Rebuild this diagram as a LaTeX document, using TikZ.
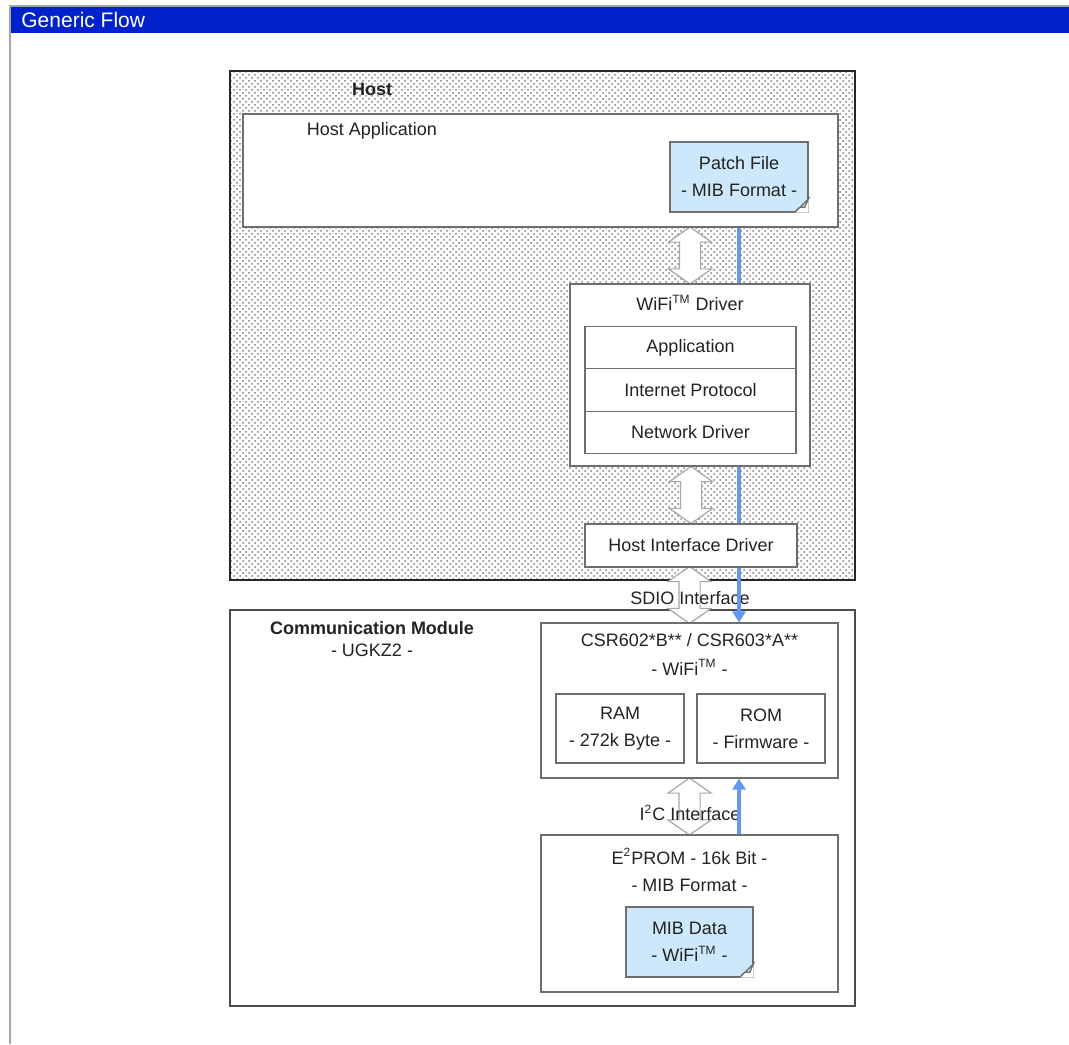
\documentclass[tikz,border=0pt]{standalone}
\usepackage{fontspec}
\setmainfont{Liberation Sans}
\usetikzlibrary{arrows.meta}
\usetikzlibrary{calc}
\usetikzlibrary{patterns}
\usetikzlibrary{shapes, shapes.arrows}

\pgfdeclarelayer{bg}
\pgfdeclarelayer{lines}
\pgfsetlayers{bg,lines,main}

\definecolor{barblue}{RGB}{0,34,204}
\definecolor{noteblue}{RGB}{204,232,250}
\definecolor{flowblue}{RGB}{100,150,245}
\definecolor{boxgray}{RGB}{110,110,110}
\definecolor{txtgray}{RGB}{35,35,35}

\tikzset{
  box/.style={draw=boxgray, line width=0.6pt, fill=white, inner sep=0pt},
  notebox/.style={box, fill=noteblue, align=center},
  txt/.style={text=txtgray, font=\fontsize{9}{13.5}\selectfont, inner sep=0pt, align=center},
  boldtxt/.style={txt, font=\bfseries\fontsize{9}{11}\selectfont},
  hollow/.style={shape=double arrow, draw=gray!70, fill=white, line width=0.6pt,
    rotate=90, inner xsep=0pt, inner ysep=5pt, minimum width=21pt, minimum height=28.5pt,
    double arrow head extend=5.5pt, double arrow tip angle=110},
  flow/.style={draw=flowblue, line width=2pt, -{Triangle[width=6.5pt,length=5.5pt]}},
}

% folded corner of a note
\newcommand{\dogear}[1]{%
  \fill[white] ($(#1.south east)+(0,-14)$) -- (#1.south east) -- ($(#1.south east)+(-14,0)$) -- cycle;
  \filldraw[draw=boxgray, fill=gray!40, line width=0.6pt]
    ($(#1.south east)+(0,-14)$) -- ($(#1.south east)+(-14,0)$)
    .. controls ($(#1.south east)+(-9,-6)$) .. ($(#1.south east)+(-4,-5)$) -- cycle;}

\begin{document}
\begin{tikzpicture}[x=0.5pt, y=-0.5pt]
        \useasboundingbox (0,0) rectangle (1069,1044);

        % Title bar
        \fill[barblue] (10,7) rectangle (1069,33);
        \draw[gray!70, line width=1pt] (1069,6) -- (10,6) -- (10,1044);
        \node[anchor=west, text=white, font=\fontsize{10.5}{12}\selectfont, inner sep=0pt] (title) at (21,20) {Generic Flow};

        % Host side
        \node[boldtxt] (hostlbl) at (372,89) {Host};
        \node[box, minimum width=297.5pt, minimum height=56.5pt] (hostapp) at (540.5,170.5) {};
        \node[txt] (hostapptxt) at (372,131) {Host Application};
        \node[notebox, txt, minimum width=69pt, minimum height=35pt] (patch) at (739,177) {Patch File\\- MIB Format -};

        \node[box, minimum width=120pt, minimum height=91pt] (driver) at (690,375) {};
        \node[txt] (drivertxt) at (690,303) {WiFi\textsuperscript{TM} Driver};
        \foreach \name/\y/\txt in {app/347.5/Application, ip/390/Internet Protocol, netdrv/432.5/Network Driver}
            \node[box, txt, minimum width=105.5pt, minimum height=21.25pt] (\name) at (690.5,\y) {\txt};

        \node[box, txt, minimum width=106pt, minimum height=21.5pt] (hid) at (691,545.5) {Host Interface Driver};

        % Module side
        \node[boldtxt] (commlbl) at (372,628) {Communication Module};
        \node[txt] (commsub) at (372,650) {- UGKZ2 -};
        \node[box, minimum width=148.5pt, minimum height=77.5pt] (csr) at (689.5,700.5) {};
        \node[txt] (csrtxt) at (689.5,654.5) {CSR602*B** / CSR603*A**\\[1pt]- WiFi\textsuperscript{TM} -};
        \node[box, txt, minimum width=64pt, minimum height=34.5pt] (ram) at (620,728.5) {RAM\\- 272k Byte -};
        \node[box, txt, minimum width=64pt, minimum height=34.5pt] (rom) at (761,728.5) {ROM\\- Firmware -};

        \node[box, minimum width=148.5pt, minimum height=78.5pt] (eprom) at (689.5,913.5) {};
        \node[txt] (epromtxt) at (689.5,870) {E\textsuperscript{2}PROM - 16k Bit -\\- MIB Format -};
        \node[notebox, txt, minimum width=63.5pt, minimum height=35pt] (mib) at (689.5,942) {MIB Data\\- WiFi\textsuperscript{TM} -};

        \dogear{patch}
        \dogear{mib}

        % Frames and interfaces
        \begin{pgfonlayer}{bg}
            \node[draw=gray!30!black, line width=0.6pt, pattern=crosshatch dots, pattern color=gray,
                minimum width=312.5pt, minimum height=254.5pt, inner sep=0pt] (host) at (542.5,325.5) {};
            \node[box, draw=gray!60!black, minimum width=312.5pt, minimum height=198pt] (comm) at (542.5,808) {};
            \foreach \n/\a/\b in {up1/hostapp/driver, up2/driver/hid, up3/hid/csr, up4/csr/eprom}
                \node[hollow] (\n) at ($(\b.north)!0.5!(\b.north |- \a.south)$) {};
            \node[txt] (sdio) at (690,598) {SDIO Interface};
            \node[txt] (iic) at (690,813) {I\textsuperscript{2}C Interface};
        \end{pgfonlayer}

        % Patch data path
        \begin{pgfonlayer}{lines}
            \draw[flow] (patch.south) -- (patch.south |- csr.north);
            \draw[flow] (eprom.north -| patch.south) -- (csr.south -| patch.south);
        \end{pgfonlayer}
    \end{tikzpicture}
\end{document}
